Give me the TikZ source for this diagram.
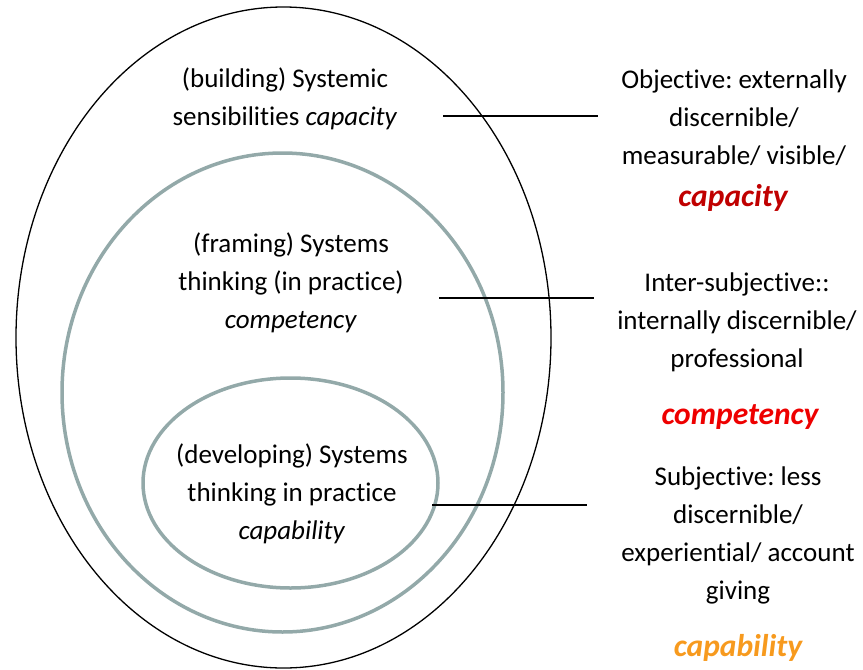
\documentclass[tikz,border=0pt]{standalone}
\usepackage{fontspec}
\setmainfont{Carlito}[Ligatures={NoCommon}]
\usetikzlibrary{shapes.geometric}
\frenchspacing
\definecolor{ringgray}{HTML}{93A9A9}
\definecolor{capred}{HTML}{C00000}
\definecolor{compred}{HTML}{EE0000}
\definecolor{caporange}{HTML}{F79A1E}
\begin{document}
\begin{tikzpicture}[x=1pt,y=-1pt,
  ring/.style={ellipse, draw, inner sep=0pt},
  txt/.style={align=center, font=\fontsize{27}{38}\selectfont\frenchspacing, inner sep=0pt},
  key/.style={font=\fontsize{31.5}{34}\selectfont\bfseries\itshape, inner sep=0pt},
  tick/.style={draw=black, line width=1.3pt}]
\useasboundingbox (0,0) rectangle (863,670);
\node[ring, line width=1.3pt, minimum width=535pt, minimum height=661pt] (outer) at (283.5,337.5) {};
\node[ring, draw=ringgray, line width=3.5pt, minimum width=441pt, minimum height=479pt] (middle) at (282.5,392.5) {};
\node[ring, draw=ringgray, line width=3.5pt, minimum width=295pt, minimum height=210pt] (inner) at (290.5,483) {};
\node[txt] (t1) at (285,99) {(building) Systemic\\sensibilities \textit{capacity}};
\node[txt] (t2) at (291,282.5) {(framing) Systems\\thinking (in practice)\\\textit{competency}};
\node[txt] (t3) at (292,494) {(developing) Systems\\thinking in practice\\\textit{capability}};
\node[txt] (r1) at (734,118) {Objective: externally\\discernible/\\measurable/ visible/};
\node[key, text=capred] (k1) at (733,198) {capacity};
\node[txt] (r2) at (737,322.5) {Inter-subjective::\\internally discernible/\\professional};
\node[key, text=compred] (k2) at (740,417) {competency};
\node[txt] (r3) at (738,535) {Subjective: less\\discernible/\\experiential/ account\\giving};
\node[key, text=caporange] (k3) at (738,648) {capability};
\coordinate (a1) at (443,116);
\coordinate (b1) at (598,116);
\coordinate (a2) at (439,298);
\coordinate (b2) at (594,298);
\coordinate (a3) at (432,505);
\coordinate (b3) at (587,505);
\draw[tick] (a1) -- (b1);
\draw[tick] (a2) -- (b2);
\draw[tick] (a3) -- (b3);
\end{tikzpicture}
\end{document}
